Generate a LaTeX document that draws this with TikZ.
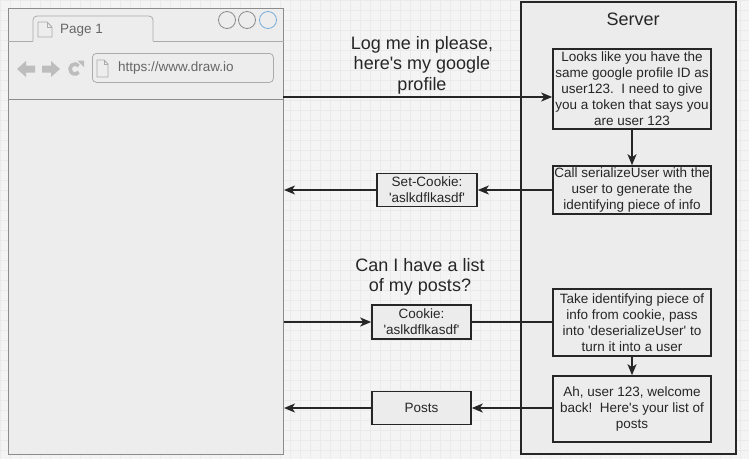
\documentclass[tikz,border=0pt]{standalone}
\usepackage{fontspec}
\setmainfont{Liberation Sans}[Ligatures=TeXOff]
\usetikzlibrary{arrows.meta}
\definecolor{bgc}{HTML}{F4F4F4}
\definecolor{gridc}{HTML}{EAEAEA}
\definecolor{winfill}{HTML}{EDEDED}
\definecolor{winline}{HTML}{8C8C8C}
\definecolor{tabline}{HTML}{ABABAB}
\definecolor{iconc}{HTML}{BDBDBD}
\definecolor{wintext}{HTML}{666666}
\definecolor{inkc}{HTML}{262626}
\definecolor{boxfill}{HTML}{ECECEC}
\definecolor{blueline}{HTML}{79ADDB}
\tikzset{
  boxtxt/.style={font=\fontsize{13.5}{16}\selectfont, text=inkc, align=center},
  procbox/.style={draw=inkc, fill=boxfill, line width=1.6pt, inner sep=0pt, boxtxt},
  arr/.style={draw=inkc, line width=1.6pt, -{Stealth[length=11pt,width=9pt,inset=3pt]}},
  plainline/.style={draw=inkc, line width=1.6pt},
  titletxt/.style={font=\fontsize{18}{20.5}\selectfont, text=inkc, align=center},
}
\begin{document}
\begin{tikzpicture}[x=1pt,y=-1pt]
\useasboundingbox (0,0) rectangle (749,459);
\fill[bgc] (0,0) rectangle (749,459);
\draw[gridc, line width=0.5pt, step=10pt] (0,0) grid (749,459);

% browser window
\node[draw=winline, fill=winfill, line width=1pt, minimum width=275pt, minimum height=446pt, inner sep=0pt, anchor=north west] (browser) at (8,8) {};
\draw[tabline, line width=0.8pt, fill=winfill, rounded corners=4pt] (33,41) -- (33,16) -- (153,16) -- (153,41);
\draw[tabline, line width=0.8pt] (browser.west |- 0,41) -- (33,41);
\draw[tabline, line width=0.8pt] (153,41) -- (browser.east |- 0,41);
\draw[winline, line width=0.8pt] (browser.west |- 0,99) -- (browser.east |- 0,99);
% tab page icon
\draw[tabline, line width=0.8pt, fill=winfill] (38,22) -- (47,22) -- (52,27) -- (52,37) -- (38,37) -- cycle;
\draw[tabline, line width=0.8pt] (47,22) -- (47,27) -- (52,27);
\node[anchor=west, inner sep=0pt, text=wintext, font=\fontsize{13.5}{16}\selectfont] (pagelbl) at (60,30) {Page 1};
% window circles
\node[draw=winline, line width=0.8pt, circle, minimum size=17pt, inner sep=0pt] (c1) at (227,20) {};
\node[draw=winline, line width=0.8pt, circle, minimum size=17pt, inner sep=0pt] (c2) at (247,20) {};
\node[draw=blueline, line width=0.8pt, circle, minimum size=17pt, inner sep=0pt] (c3) at (268,20) {};
% nav icons
\fill[iconc] (17,69) -- (26,61) -- (26,65.5) -- (35,65.5) -- (35,72.5) -- (26,72.5) -- (26,77) -- cycle;
\fill[iconc] (60,69) -- (51,61) -- (51,65.5) -- (42,65.5) -- (42,72.5) -- (51,72.5) -- (51,77) -- cycle;
\draw[iconc, line width=3.6pt] (75,69) ++(-40:5) arc[start angle=-40, end angle=-320, radius=5];
\fill[iconc] (77.5,60.5) -- (84,60.5) -- (84,67) -- cycle;
% address bar
\node[draw=tabline, fill=winfill, line width=0.8pt, rounded corners=4pt, minimum width=181pt, minimum height=29pt, inner sep=0pt, anchor=north west] (addr) at (92,53) {};
\draw[tabline, line width=0.8pt, fill=winfill] (97,60) -- (104,60) -- (108,64) -- (108,77) -- (97,77) -- cycle;
\draw[tabline, line width=0.8pt] (104,60) -- (104,64) -- (108,64);
\node[anchor=west, inner sep=0pt, text=wintext, font=\fontsize{13.5}{16}\selectfont] (url) at (118,68.5) {https://www.draw.io};

% server
\node[draw=inkc, fill=boxfill, line width=1.6pt, minimum width=215pt, minimum height=452pt, inner sep=0pt, anchor=north west] (server) at (520,1) {};
\node[titletxt] (servertitle) at (633,19) {Server};

\node[procbox, minimum width=158pt, minimum height=80pt] (box1) at (632,89)
  {Looks like you have the\\same google profile ID as\\user123.\ \ I need to give\\you a token that says you\\are user 123};
\node[procbox, minimum width=158pt, minimum height=48pt] (box2) at (632,190)
  {Call serializeUser with the\\user to generate the\\identifying piece of info};
\node[procbox, minimum width=158pt, minimum height=67pt] (box3) at (632,322.5)
  {Take identifying piece of\\info from cookie, pass\\into 'deserializeUser' to\\turn it into a user};
\node[procbox, minimum width=158pt, minimum height=66pt] (box4) at (632,409)
  {Ah, user 123, welcome\\back!\ \ Here's your list of\\posts};

\draw[arr] (box1.south) -- (box2.north);
\draw[arr] (box3.south) -- (box4.north);

% messages
\node[procbox, minimum width=100pt, minimum height=33pt] (setck) at (427,190) {Set-Cookie:\\'aslkdflkasdf'};
\node[procbox, minimum width=99pt, minimum height=34pt] (ck) at (421.5,322) {Cookie:\\'aslkdflkasdf'};
\node[procbox, minimum width=99pt, minimum height=33pt] (posts) at (421.5,408) {Posts};

\node[titletxt] (msg1) at (422,65) {Log me in please,\\here's my google\\profile};
\node[titletxt] (msg2) at (420,277) {Can I have a list\\of my posts?};

\coordinate (login) at (283,97);
\draw[arr] (login) -- (login -| box1.west);
\draw[arr] (setck.east -| box2.west) -- (setck.east);
\draw[arr] (setck.west) -- (setck.west -| browser.east);
\draw[arr] (ck.west -| browser.east) -- (ck.west);
\draw[plainline] (ck.east) -- (ck.east -| box3.west);
\draw[arr] (posts.east -| box4.west) -- (posts.east);
\draw[arr] (posts.west) -- (posts.west -| browser.east);
\end{tikzpicture}
\end{document}
